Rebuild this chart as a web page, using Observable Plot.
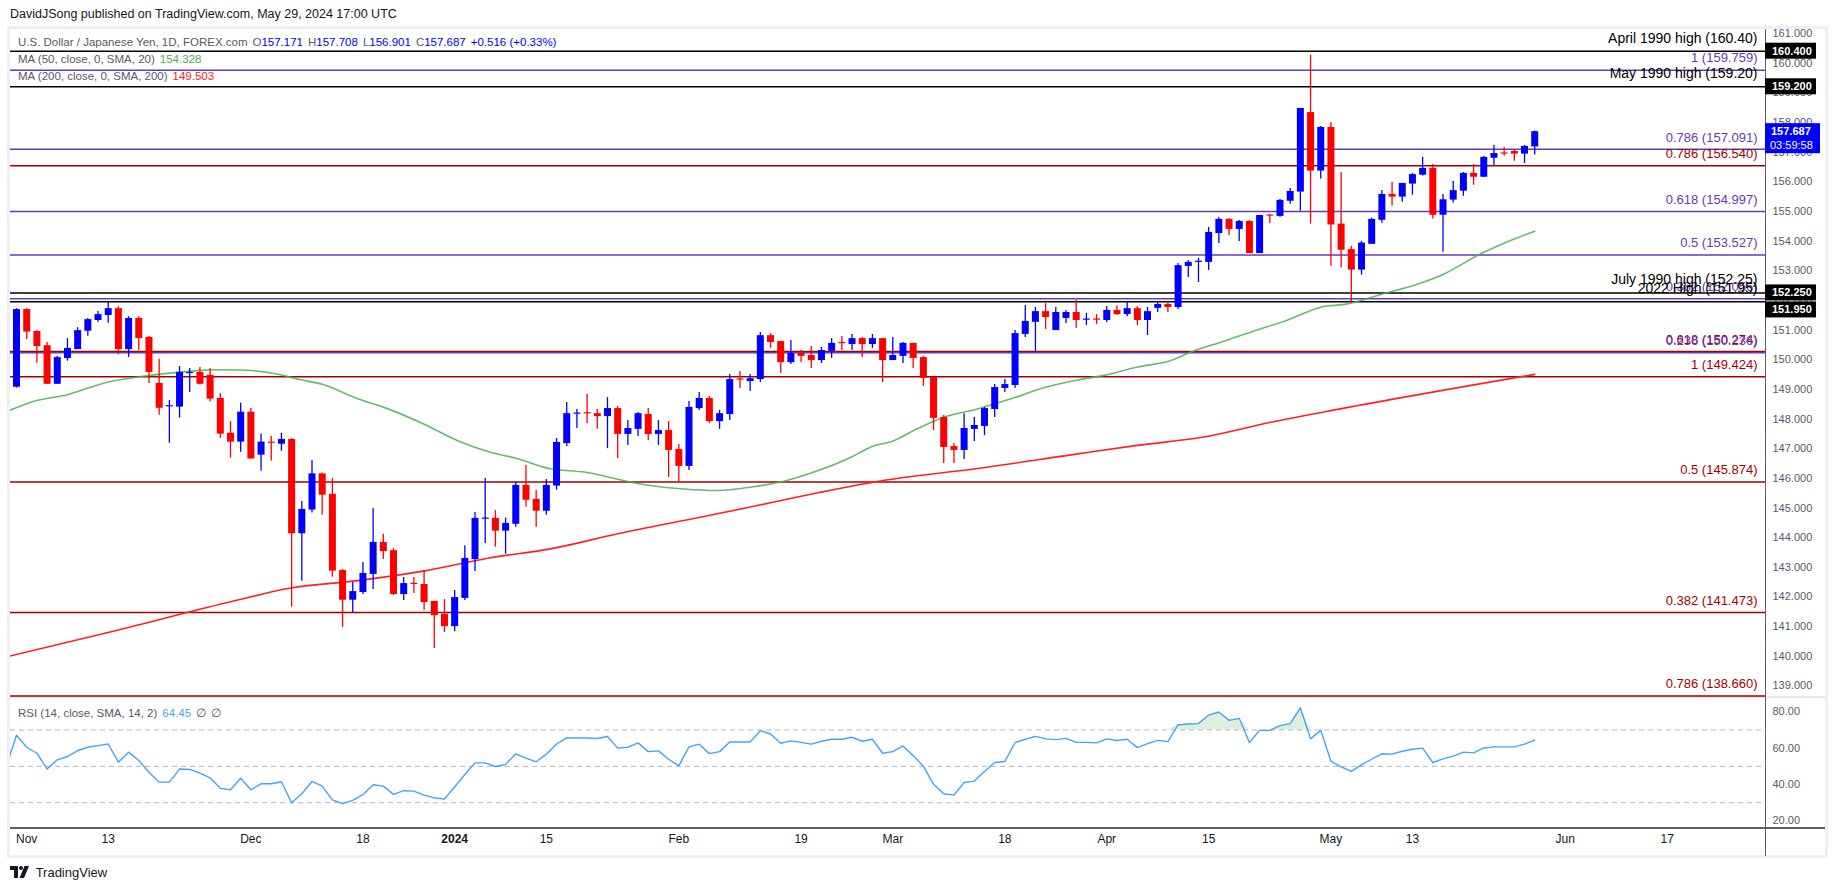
<!DOCTYPE html>
<html>
<head>
<meta charset="utf-8">
<script src="https://cdn.jsdelivr.net/npm/d3@7"></script>
<script src="https://cdn.jsdelivr.net/npm/@observablehq/plot@0.6"></script>
<style>
  html, body { margin:0; padding:0; background:#fff; }
  body { width:1835px; height:891px; position:relative; overflow:hidden;
         font-family:"Liberation Sans", Arial, sans-serif; color:#131722; }
  .abs { position:absolute; }
  #pub { left:10px; top:6px; font-size:12.5px; line-height:16px; color:#131722; white-space:nowrap; }
  .legend { left:18px; font-size:11.5px; line-height:14px; color:#555a66; white-space:nowrap; }
  .legend span { margin-left:5px; }
  .legend .first { margin-left:0; }
  .blue { color:#0000ff; }
  #frame { left:7px; top:26px; width:1821px; height:832px; border:3px solid #eef0f4; box-sizing:border-box; }
  #vline { left:1765px; top:29px; width:1px; height:827px; background:#5d606b; }
  #hline { left:10px; top:827px; width:1815px; height:1.5px; background:#5d606b; }
  #sep { left:10px; top:696px; width:1815px; height:2px; background:#e6e8ee; }
  #logo { left:10px; top:865px; height:16px; white-space:nowrap; font-size:13px; color:#131722; }
</style>
</head>
<body>
<div id="frame" class="abs"></div>
<div id="sep" class="abs"></div>
<div id="vline" class="abs"></div>
<div id="hline" class="abs"></div>
<div id="price" class="abs" style="left:0;top:30px"></div>
<div id="rsi" class="abs" style="left:0;top:697px"></div>

<div id="pub" class="abs">DavidJSong published on TradingView.com, May 29, 2024 17:00 UTC</div>
<div class="abs legend" style="top:35px"><span class="first">U.S. Dollar / Japanese Yen, 1D, FOREX.com</span><span>O<b class="blue" style="font-weight:normal">157.171</b></span><span>H<b class="blue" style="font-weight:normal">157.708</b></span><span>L<b class="blue" style="font-weight:normal">156.901</b></span><span>C<b class="blue" style="font-weight:normal">157.687</b></span><span class="blue">+0.516 (+0.33%)</span></div>
<div class="abs legend" style="top:52px"><span class="first">MA (50, close, 0, SMA, 20)</span><span style="color:#4caf50">154.328</span></div>
<div class="abs legend" style="top:69px"><span class="first">MA (200, close, 0, SMA, 200)</span><span style="color:#ff1a1a">149.503</span></div>
<div class="abs legend" style="top:706px"><span class="first">RSI (14, close, SMA, 14, 2)</span><span style="color:#42a5f5">64.45</span><span>∅</span><span>∅</span></div>

<div id="logo" class="abs">
  <svg width="20" height="12" viewBox="0 0 20 12" style="vertical-align:-1px">
    <path d="M0 0H8V12H4V4H0Z" fill="#131722"/>
    <circle cx="11" cy="2" r="2" fill="#131722"/>
    <path d="M14.5 0H19L14 12H9.5Z" fill="#131722"/>
  </svg>
  <span style="margin-left:2px">TradingView</span>
</div>

<script>
// ---------------- DATA ----------------
// Bar index: 0 = 2023-10-30 (Mon); weekdays only, Dec 25 and Jan 1 absent.
// Candles start at bar 1 (2023-10-31) and end at bar 150 (2024-05-29).
const firstCandleBar = 1;
const opens = [
  149.07,151.69,150.95,150.47,149.17,150.04,150.34,150.96,151.32,151.49,
  151.72,150.34,151.39,150.75,149.20,148.41,148.40,149.53,149.57,149.47,
  148.69,147.52,147.22,148.23,146.78,147.20,147.15,147.31,144.13,144.93,
  146.15,145.46,142.89,141.89,142.15,142.76,143.84,143.56,142.08,142.43,
  142.42,141.85,141.41,141.00,141.95,143.26,144.62,144.65,144.22,144.45,
  145.76,145.29,144.89,145.74,147.17,148.16,148.18,148.18,148.08,148.35,
  147.48,147.65,148.15,147.48,147.61,146.97,146.40,148.35,148.69,147.91,
  148.15,149.33,149.26,149.33,150.81,150.61,149.90,150.21,150.14,149.97,
  150.28,150.55,150.51,150.71,150.51,150.71,149.97,150.11,150.55,150.07,
  149.40,148.05,147.07,146.94,147.65,147.75,148.32,149.03,149.13,150.85,
  151.26,151.62,150.98,151.39,151.59,151.33,151.35,151.32,151.66,151.52,
  151.72,151.32,151.73,151.86,151.76,153.14,153.28,153.28,154.25,154.73,
  154.39,154.66,153.58,154.86,154.83,155.34,155.65,158.33,156.36,157.83,
  154.57,153.71,153.02,153.89,154.70,155.57,155.48,155.92,156.22,156.45,
  154.87,155.38,155.68,156.28,156.15,156.79,156.95,157.02,156.93,157.171
];
const highs = [
  151.72,151.72,150.98,150.58,150.11,150.71,151.08,151.39,151.62,151.93,
  151.79,151.45,151.45,150.78,150.01,148.62,149.77,149.70,149.74,149.70,
  148.86,147.91,148.53,148.36,147.49,147.42,147.52,147.34,145.22,146.60,
  146.18,146.00,142.93,142.49,143.16,144.98,144.11,143.63,142.66,142.66,
  142.89,141.85,141.91,142.22,143.73,144.85,145.99,144.91,144.66,145.86,
  146.43,145.59,145.96,147.34,148.56,148.32,148.83,148.32,148.72,148.42,
  147.95,148.22,148.35,147.95,147.91,147.14,148.59,148.89,148.76,148.29,
  149.50,149.60,149.50,150.92,150.88,150.61,150.65,150.31,150.44,150.41,
  150.71,150.78,150.85,150.75,150.85,150.71,150.75,150.58,150.55,150.11,
  149.40,148.12,147.17,148.18,148.05,148.39,149.16,149.33,150.98,151.83,
  151.76,151.89,151.76,151.66,152.00,151.56,151.52,151.79,151.82,151.96,
  151.79,151.76,151.96,151.96,153.24,153.34,153.41,154.46,154.79,154.76,
  154.69,154.69,154.86,154.89,155.40,155.77,158.47,160.26,157.86,158.00,
  156.31,153.82,153.99,154.77,155.70,155.97,155.94,156.28,156.82,156.58,
  155.57,156.01,156.31,156.58,156.85,157.22,157.15,157.05,157.22,157.708
];
const lows = [
  149.04,150.68,149.88,149.17,149.17,149.95,150.34,150.79,151.26,151.23,
  150.17,150.07,150.31,149.20,148.13,147.18,148.03,148.89,149.15,148.57,
  147.35,146.68,146.88,146.65,146.24,146.58,146.91,141.66,142.53,144.83,
  144.76,142.67,140.98,141.45,142.08,142.25,143.26,142.05,141.88,142.12,
  141.54,140.26,140.80,140.83,141.88,142.86,143.80,143.68,143.44,144.35,
  145.03,144.35,144.76,145.60,147.07,147.68,147.85,147.65,147.00,146.67,
  147.11,147.41,147.27,147.11,146.03,145.86,146.26,148.29,147.85,147.65,
  147.95,149.03,148.93,149.23,150.38,149.53,149.84,149.90,149.70,149.87,
  150.04,150.31,150.31,150.07,150.38,149.23,149.97,149.87,149.70,149.10,
  147.61,146.50,146.50,146.63,147.24,147.44,148.05,148.89,149.03,150.75,
  150.24,151.02,150.98,151.22,151.05,151.15,151.19,151.25,151.49,151.45,
  151.15,150.81,151.59,151.59,151.69,152.77,152.60,153.01,153.92,154.19,
  153.98,153.58,153.58,154.59,154.80,155.24,155.01,154.57,156.09,153.15,
  153.09,151.90,152.85,153.89,154.60,155.18,155.31,155.55,156.19,154.74,
  153.62,155.28,155.51,155.88,156.15,156.55,156.86,156.69,156.61,156.901
];
const closes = [
  151.69,150.93,150.44,149.17,150.07,150.38,150.98,151.35,151.52,151.72,
  150.34,151.39,150.71,149.57,148.36,148.43,149.57,149.57,149.17,148.67,
  147.49,147.22,148.23,146.65,147.22,147.18,147.31,144.13,144.95,146.15,
  145.43,142.87,141.89,142.18,142.79,143.84,143.53,142.08,142.45,142.42,
  141.81,141.37,141.00,141.98,143.30,144.65,144.64,144.22,144.48,145.76,
  145.26,144.89,145.76,147.21,148.18,148.18,148.17,148.08,148.35,147.48,
  147.68,148.18,147.48,147.61,146.94,146.40,148.39,148.69,147.91,148.18,
  149.33,149.31,149.36,150.81,150.58,149.90,150.21,150.11,149.97,150.31,
  150.55,150.54,150.71,150.51,150.71,149.97,150.14,150.55,150.04,149.37,
  148.02,147.04,146.94,147.68,147.78,148.35,149.06,149.16,150.88,151.29,
  151.62,151.42,151.59,151.59,151.32,151.35,151.33,151.66,151.52,151.72,
  151.32,151.62,151.86,151.76,153.17,153.28,153.31,154.29,154.73,154.39,
  154.66,153.58,154.86,154.84,155.37,155.67,158.47,156.36,157.83,154.54,
  153.69,153.02,153.93,154.73,155.57,155.48,155.94,156.24,156.45,154.87,
  155.39,155.70,156.28,156.15,156.82,156.95,156.93,156.93,157.19,157.687
];

// 50-day MA (green): [bar, value]
const ma50Bars = [0.4,2.7,6,9.9,13.2,17.1,20.3,23,26.9,28.9,31.1,34.5,37,40.9,44.3,47.5,50.2,53.4,56.7,61.3,63.2,66.5,69.8,73,76.3,78.9,82.9,84.8,87.1,89.4,92,95.3,98.6,101.8,105.4,107.7,111,114.3,116.2,119.2,122.4,125.7,129,131.6,134.9,138.1,141.1,144.7,148,150];
const ma50Vals = [148.30,148.60,148.82,149.24,149.43,149.58,149.66,149.65,149.49,149.32,149.16,148.68,148.40,147.84,147.27,146.88,146.66,146.32,146.21,145.87,145.76,145.64,145.59,145.70,145.90,146.17,146.71,147.05,147.27,147.67,148.06,148.34,148.68,149.05,149.33,149.47,149.75,149.97,150.25,150.59,150.96,151.33,151.77,151.88,152.20,152.50,152.89,153.57,154.07,154.328];

// 200-day MA (red)
const ma200Bars = [0.35,10.9,22.4,27.9,34.5,40.9,47.5,53.4,60,66.5,73,79.9,86.5,95.3,104.5,111,117.5,124.1,130.9,150];
const ma200Vals = [140.01,140.88,141.87,142.30,142.55,142.87,143.32,143.62,144.13,144.58,145.03,145.53,145.95,146.33,146.79,147.11,147.39,147.89,148.34,149.503];

// RSI(14), bars 0..150
const rsiVals = [
  50.1,67.1,60.5,57.2,48.5,53.6,55.4,58.7,60.5,61.4,62.3,52.3,57.8,53.2,46.8,41.3,41.3,48.5,48.3,46.3,
  43.7,37.9,37.1,43.5,37.1,40.4,40.4,41.5,30.0,34.9,41.7,39.1,31.6,29.5,31.3,34.4,39.9,39.1,34.6,36.6,
  36.4,34.2,32.7,32.0,38.6,45.5,51.9,51.9,49.9,51.0,56.9,54.5,52.5,56.7,62.3,65.6,65.6,65.6,65.3,66.4,
  60.0,60.5,62.9,58.1,58.5,53.9,50.3,60.7,62.2,57.0,58.1,63.4,63.4,63.4,69.6,67.8,62.7,64.0,63.2,62.2,
  63.8,64.9,64.9,66.0,63.8,64.9,57.2,58.1,61.2,55.9,50.1,40.1,34.9,34.2,41.1,41.9,47.2,52.1,52.7,63.1,
  64.9,66.5,65.1,64.7,65.4,63.2,63.2,62.9,65.1,64.2,64.9,60.3,62.5,64.3,63.6,72.9,73.3,73.5,78.2,79.9,
  75.3,76.4,63.1,69.8,69.8,72.4,73.5,82.2,65.1,69.8,52.8,49.7,47.2,50.8,53.9,56.9,56.7,58.3,59.4,60.0,
  52.1,54.1,55.6,57.8,57.4,60.1,60.7,60.7,60.7,62.2,64.45
];

// Horizontal levels drawn on the chart
const levelPrice = [160.40,159.759,159.20,157.091,156.540,154.997,153.527,152.25,152.056,151.95,150.274,150.236,149.424,145.874,141.473,138.660];
const levelLabel = ["April 1990 high (160.40)","1 (159.759)","May 1990 high (159.20)","0.786 (157.091)","0.786 (156.540)","0.618 (154.997)","0.5 (153.527)","July 1990 high (152.25)","0.382 (152.056)","2022 High (151.95)","0.618 (150.274)","0.236 (150.236)","1 (149.424)","0.5 (145.874)","0.382 (141.473)","0.786 (138.660)"];
const levelKind  = ["key","fibB","key","fibB","fibR","fibB","fibB","key","fibB","key","fibR","fibB","fibR","fibR","fibR","fibR"];

// Price-scale badges
const badgePrice = [160.40, 159.20, 152.25, 151.95];
const lastPrice = 157.687;
const countdown = "03:59:58";

// Axis ticks
const priceTicks = [139,140,141,142,143,144,145,146,147,148,149,150,151,152,153,154,155,156,157,158,159,160,161];
const rsiTicks = [20,40,60,80];
const rsiBands = [70,50,30];
const xTickBars = [2,10,24,35,44,53,66,78,87,98,108,118,130,138,153,163];
const xTickLabels = ["Nov","13","Dec","18","2024","15","Feb","19","Mar","18","Apr","15","May","13","Jun","17"];
const xTickBold = [false,false,false,false,true,false,false,false,false,false,false,false,false,false,false,false];

// ---------------- BUILD ----------------
const UP = "#0000ff", DOWN = "#ff0000";
const kindColor = {key:"#000000", fibB:"#673ab7", fibR:"#a30000"};
const FONT = "Liberation Sans, Arial, sans-serif";
const W = 1835;
const xDomain = [0.41, 172.65];

const candles = opens.map((o, j) => ({k: j + firstCandleBar, open: o, high: highs[j], low: lows[j], close: closes[j]}));
const candleColor = d => d.close >= d.open ? UP : DOWN;
const ma50 = ma50Bars.map((k, j) => ({k, v: ma50Vals[j]}));
const ma200 = ma200Bars.map((k, j) => ({k, v: ma200Vals[j]}));
const rsi = rsiVals.map((v, k) => ({k, v}));
const levels = levelPrice.map((p, j) => ({price: p, label: levelLabel[j], kind: levelKind[j], color: kindColor[levelKind[j]]}));
const xTicks = xTickBars.map((k, j) => ({k, label: xTickLabels[j], bold: xTickBold[j]}));

const priceChart = Plot.plot({
  width: W, height: 667,
  marginLeft: 10, marginRight: 70, marginTop: 0, marginBottom: 0,
  style: {fontFamily: FONT, background: "transparent", overflow: "visible"},
  x: {domain: xDomain, axis: null},
  y: {domain: [138.61, 161.098]},
  color: {type: "identity"},
  marks: [
    Plot.ruleY(levels, {y: "price", stroke: "color", strokeWidth: 1.5}),
    Plot.text(levels.filter(d => d.kind === "fibR"), {y: "price", text: "label", frameAnchor: "right", textAnchor: "end", dx: -8, dy: -12, fill: "color", fontSize: 13}),
    Plot.text(levels.filter(d => d.kind === "fibB"), {y: "price", text: "label", frameAnchor: "right", textAnchor: "end", dx: -8, dy: -12, fill: "color", fontSize: 13}),
    Plot.text(levels.filter(d => d.kind === "key"), {y: "price", text: "label", frameAnchor: "right", textAnchor: "end", dx: -8, dy: -13, fill: "color", fontSize: 14}),
    Plot.line(ma200, {x: "k", y: "v", stroke: "#ff2020", strokeWidth: 1.6, curve: "monotone-x", clip: true}),
    Plot.line(ma50, {x: "k", y: "v", stroke: "#4caf50", strokeWidth: 1.6, strokeOpacity: 0.85, curve: "monotone-x", clip: true}),
    Plot.ruleX(candles, {x: "k", y1: "low", y2: "high", stroke: candleColor, strokeWidth: 1.3, clip: true}),
    Plot.ruleX(candles, {x: "k",
      y1: d => Math.min(d.open, d.close),
      y2: d => Math.max(Math.max(d.open, d.close), Math.min(d.open, d.close) + 0.04),
      stroke: candleColor, strokeWidth: 7, clip: true}),
    Plot.axisY(priceTicks, {anchor: "right", label: null, tickSize: 0, tickPadding: 7, tickFormat: d => d.toFixed(3), fontSize: 11, color: "#555a66"})
  ]
});
document.getElementById("price").appendChild(priceChart);

// badges on the price scale, placed through the chart's y scale (stacked so they never overlap)
{
  const ys = priceChart.scale("y");
  const x0 = W - 70;
  const H = 16;
  const g = d3.select(priceChart).append("g").attr("font-family", FONT);
  const items = badgePrice.map(p => ({p, y: ys.apply(p)})).sort((a, b) => a.y - b.y);
  let prevBottom = -Infinity;
  items.forEach(it => {
    const top = Math.max(it.y - H / 2, prevBottom + 1);
    prevBottom = top + H;
    g.append("rect").attr("x", x0).attr("y", top).attr("width", 51).attr("height", H).attr("fill", "#000");
    g.append("text").attr("x", x0 + 7).attr("y", top + H / 2).attr("dy", "0.36em").attr("fill", "#fff")
      .attr("font-size", 11).attr("font-weight", "bold").attr("text-anchor", "start").text(it.p.toFixed(3));
  });
  const yl = ys.apply(lastPrice);
  g.append("rect").attr("x", x0).attr("y", yl - 8).attr("width", 55).attr("height", 30).attr("fill", "#0000ff");
  g.append("text").attr("x", x0 + 6).attr("y", yl).attr("dy", "0.36em").attr("fill", "#fff")
    .attr("font-size", 11).attr("font-weight", "bold").attr("text-anchor", "start").text(lastPrice.toFixed(3));
  g.append("text").attr("x", x0 + 5).attr("y", yl + 14).attr("dy", "0.36em").attr("fill", "#fff")
    .attr("font-size", 11).attr("text-anchor", "start").text(countdown);
}

const rsiChart = Plot.plot({
  width: W, height: 161,
  marginLeft: 10, marginRight: 70, marginTop: 0, marginBottom: 30,
  style: {fontFamily: FONT, background: "transparent", overflow: "visible"},
  x: {domain: xDomain, axis: null},
  y: {domain: [15.82, 87.86]},
  marks: [
    Plot.ruleY(rsiBands, {stroke: "#b2b5be", strokeDasharray: "5,4", strokeWidth: 1}),
    Plot.areaY(rsi, {x: "k", y1: 70, y2: d => Math.max(70, d.v), fill: "#66bb6a", fillOpacity: 0.22, clip: true}),
    Plot.line(rsi, {x: "k", y: "v", stroke: "#42a5f5", strokeWidth: 1.4, clip: true}),
    Plot.axisY(rsiTicks, {anchor: "right", label: null, tickSize: 0, tickPadding: 7, tickFormat: d => d.toFixed(2), fontSize: 11, color: "#555a66"}),
    Plot.text(xTicks.filter(d => !d.bold), {x: "k", text: "label", frameAnchor: "bottom", dy: 14, fontSize: 12, fill: "#131722"}),
    Plot.text(xTicks.filter(d => d.bold), {x: "k", text: "label", frameAnchor: "bottom", dy: 14, fontSize: 12, fontWeight: "bold", fill: "#131722"})
  ]
});
document.getElementById("rsi").appendChild(rsiChart);
</script>
</body>
</html>
